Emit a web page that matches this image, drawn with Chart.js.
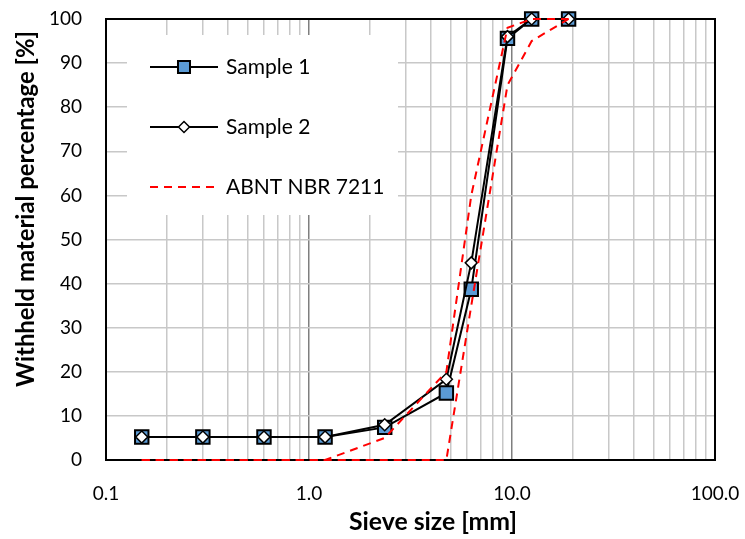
<!DOCTYPE html>
<html>
<head>
<meta charset="utf-8">
<script src="https://cdn.jsdelivr.net/npm/chart.js@4"></script>
<style>
  html, body { margin: 0; padding: 0; background: #fff; }
  #wrap { width: 745px; height: 539px; }
</style>
</head>
<body>
<div id="wrap"><canvas id="chart"></canvas></div>
<script>
// sieve openings in mm
const sieves = [0.15, 0.3, 0.6, 1.2, 2.36, 4.75, 6.3, 9.5, 12.5, 19];

const sample1 = [5.2, 5.2, 5.2, 5.2, 7.4, 15.2, 38.7, 95.6, 100, 100];
const sample2 = [5.2, 5.2, 5.2, 5.2, 8.0, 18.3, 44.7, 96.0, 100, 100];

// ABNT NBR 7211 zone limits
const upperLimit = [0, 0, 0, 0, 5, 20, 60, 98, 100, 100];
const lowerLimit = [0, 0, 0, 0, 0, 0, 35, 85, 95, 100];

const xTickValues = [];
[0.1, 1, 10].forEach(d => {
    for (let k = 1; k <= 9; k++) xTickValues.push(+(d * k).toPrecision(3));
});
xTickValues.push(100);

const fontName = 'Lato, "Open Sans", sans-serif';

function pts(ys) {
    return sieves.map((s, i) => ({x: s, y: ys[i]}));
}

function isDecade(v) {
    const l = Math.log10(v);
    return Math.abs(l - Math.round(l)) < 1e-6;
}

// bold title sized to a given width
function fitText(ctx, text, x, y, width) {
    ctx.font = 'bold 20px ' + fontName;
    const size = 20 * width / ctx.measureText(text).width;
    ctx.font = 'bold ' + size.toFixed(1) + 'px ' + fontName;
    ctx.fillText(text, x, y);
}

const frame = {
    id: 'frame',
    beforeDatasetsDraw(chart) {
        const a = chart.chartArea;
        const ctx = chart.ctx;
        ctx.save();
        ctx.strokeStyle = '#000';
        ctx.lineWidth = 2;
        ctx.strokeRect(a.left, a.top, a.right - a.left, a.bottom - a.top);
        ctx.restore();
    }
};

const titles = {
    id: 'titles',
    afterDraw(chart) {
        const ctx = chart.ctx;
        ctx.save();
        ctx.fillStyle = '#000';
        ctx.textAlign = 'center';
        ctx.textBaseline = 'middle';
        fitText(ctx, 'Sieve size [mm]', 433, 522, 168);
        ctx.translate(26, 209);
        ctx.rotate(-Math.PI / 2);
        fitText(ctx, 'Withheld material percentage [%]', 0, 0, 356);
        ctx.restore();
    }
};

const boxLegend = {
    id: 'boxLegend',
    afterDatasetsDraw(chart) {
        const ctx = chart.ctx;
        ctx.save();
        ctx.fillStyle = '#fff';
        ctx.fillRect(127, 35, 271, 180);
        const rows = [
            {ds: 0, y: 67},
            {ds: 1, y: 127},
            {ds: 2, y: 187}
        ];
        rows.forEach(r => {
            const d = chart.data.datasets[r.ds];
            ctx.strokeStyle = d.borderColor;
            ctx.lineWidth = d.borderWidth;
            ctx.setLineDash(d.borderDash || []);
            ctx.beginPath();
            ctx.moveTo(150, r.y);
            ctx.lineTo(218, r.y);
            ctx.stroke();
            ctx.setLineDash([]);
            if (d.pointRadius > 0) {
                ctx.fillStyle = d.pointBackgroundColor;
                ctx.strokeStyle = d.pointBorderColor;
                ctx.lineWidth = d.pointBorderWidth;
                Chart.helpers.drawPoint(ctx, {
                    pointStyle: d.pointStyle,
                    radius: d.pointStyle === 'rect' ? 8.5 : 5.5,
                    borderWidth: d.pointBorderWidth
                }, 184, r.y);
            }
            ctx.fillStyle = '#000';
            ctx.font = '21px ' + fontName;
            ctx.textAlign = 'left';
            ctx.textBaseline = 'middle';
            ctx.fillText(d.label, 226, r.y);
        });
        ctx.restore();
    }
};

const config = {
    type: 'line',
    data: {
        datasets: [{
            label: 'Sample 1',
            data: pts(sample1),
            borderColor: '#000',
            borderWidth: 2,
            pointStyle: 'rect',
            pointRadius: 9.5,
            pointBackgroundColor: '#5B9BD5',
            pointBorderColor: '#000',
            pointBorderWidth: 2,
            order: 3
        },
        {
            label: 'Sample 2',
            data: pts(sample2),
            borderColor: '#000',
            borderWidth: 2,
            pointStyle: 'rectRot',
            pointRadius: 6,
            pointBackgroundColor: '#fff',
            pointBorderColor: '#000',
            pointBorderWidth: 1.5,
            order: 2
        },
        {
            label: 'ABNT NBR 7211',
            data: pts(upperLimit),
            borderColor: '#ff0000',
            borderWidth: 2,
            borderDash: [8, 6],
            pointRadius: 0,
            order: 1
        },
        {
            label: 'ABNT NBR 7211 lower',
            data: pts(lowerLimit),
            borderColor: '#ff0000',
            borderWidth: 2,
            borderDash: [8, 6],
            pointRadius: 0,
            order: 1
        }]
    },
    options: {
        responsive: true,
        maintainAspectRatio: false,
        animation: false,
        clip: false,
        layout: {
            autoPadding: false,
            padding: {left: 0, top: 19, right: 30, bottom: 0}
        },
        elements: {
            line: {tension: 0}
        },
        plugins: {
            legend: {display: false},
            tooltip: {enabled: false}
        },
        scales: {
            x: {
                type: 'logarithmic',
                min: 0.1,
                max: 100,
                afterBuildTicks: scale => {
                    scale.ticks = xTickValues.map(v => ({value: v}));
                },
                afterFit: scale => {
                    scale.height = 79;
                    scale.paddingLeft = 0;
                    scale.paddingRight = 0;
                },
                ticks: {
                    autoSkip: false,
                    maxRotation: 0,
                    padding: 22,
                    color: '#000',
                    font: {family: fontName, size: 19},
                    callback: v => isDecade(v) ? v.toFixed(1) : ''
                },
                grid: {
                    drawTicks: false,
                    lineWidth: 1.5,
                    color: c => (c.tick && isDecade(c.tick.value)) ? '#7f7f7f' : '#c8c8c8'
                },
                border: {display: false}
            },
            y: {
                min: 0,
                max: 100,
                afterFit: scale => {
                    scale.width = 106;
                    scale.paddingTop = 0;
                    scale.paddingBottom = 0;
                },
                ticks: {
                    stepSize: 10,
                    padding: 24,
                    color: '#000',
                    font: {family: fontName, size: 19}
                },
                grid: {
                    drawTicks: false,
                    lineWidth: 1.5,
                    color: '#c8c8c8'
                },
                border: {display: false}
            }
        }
    },
    plugins: [frame, boxLegend, titles]
};

const chart = new Chart(document.getElementById('chart'), config);
</script>
</body>
</html>
